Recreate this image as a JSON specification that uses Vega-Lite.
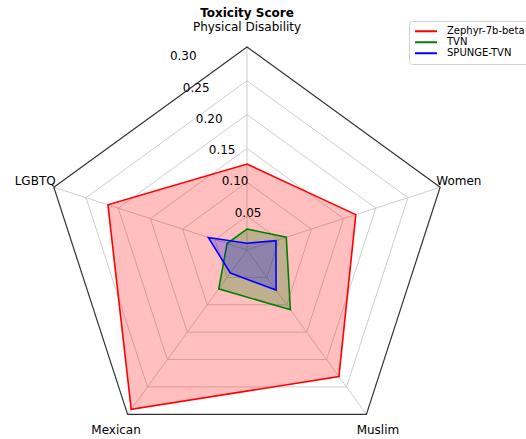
{
  "$schema": "https://vega.github.io/schema/vega-lite/v6.json",
  "width": 526,
  "height": 439,
  "autosize": {"type": "none"},
  "padding": 0,
  "config": {"view": {"stroke": null}, "font": "DejaVu Sans"},
  "datasets": {
    "axes": [
      {"idx": 0, "name": "Physical Disability"},
      {"idx": 1, "name": "Women"},
      {"idx": 2, "name": "Muslim"},
      {"idx": 3, "name": "Mexican"},
      {"idx": 4, "name": "LGBTQ"}
    ],
    "grid": [
      {"level": 0.05, "label": "0.05", "idx": [0, 1, 2, 3, 4]},
      {"level": 0.10, "label": "0.10", "idx": [0, 1, 2, 3, 4]},
      {"level": 0.15, "label": "0.15", "idx": [0, 1, 2, 3, 4]},
      {"level": 0.20, "label": "0.20", "idx": [0, 1, 2, 3, 4]},
      {"level": 0.25, "label": "0.25", "idx": [0, 1, 2, 3, 4]},
      {"level": 0.30, "label": "0.30", "idx": [0, 1, 2, 3, 4]}
    ],
    "scores": [
      {"series": "Zephyr-7b-beta", "idx": 0, "value": 0.127},
      {"series": "Zephyr-7b-beta", "idx": 1, "value": 0.169},
      {"series": "Zephyr-7b-beta", "idx": 2, "value": 0.231},
      {"series": "Zephyr-7b-beta", "idx": 3, "value": 0.291},
      {"series": "Zephyr-7b-beta", "idx": 4, "value": 0.216},
      {"series": "TVN", "idx": 0, "value": 0.031},
      {"series": "TVN", "idx": 1, "value": 0.061},
      {"series": "TVN", "idx": 2, "value": 0.109},
      {"series": "TVN", "idx": 3, "value": 0.071},
      {"series": "TVN", "idx": 4, "value": 0.031},
      {"series": "SPUNGE-TVN", "idx": 0, "value": 0.010},
      {"series": "SPUNGE-TVN", "idx": 1, "value": 0.045},
      {"series": "SPUNGE-TVN", "idx": 2, "value": 0.073},
      {"series": "SPUNGE-TVN", "idx": 3, "value": 0.042},
      {"series": "SPUNGE-TVN", "idx": 4, "value": 0.060}
    ]
  },
  "layer": [
    {
      "data": {"name": "grid"},
      "transform": [
        {"filter": "datum.level < 0.29"},
        {"flatten": ["idx"]},
        {"calculate": "datum.level * cos((90 - 72 * datum.idx) * PI / 180)", "as": "x"},
        {"calculate": "datum.level * sin((90 - 72 * datum.idx) * PI / 180)", "as": "y"}
      ],
      "mark": {"type": "line", "interpolate": "linear-closed", "stroke": "#c8c8c8", "strokeWidth": 0.9},
      "encoding": {
        "x": {"field": "x", "type": "quantitative", "scale": {"domain": [-0.36484, 0.41211], "nice": false, "zero": false}, "axis": null},
        "y": {"field": "y", "type": "quantitative", "scale": {"domain": [-0.27917, 0.36928], "nice": false, "zero": false}, "axis": null},
        "detail": {"field": "level", "type": "nominal"},
        "order": {"field": "idx", "type": "quantitative"}
      }
    },
    {
      "data": {"name": "axes"},
      "transform": [
        {"calculate": "0", "as": "ox"},
        {"calculate": "0.3 * cos((90 - 72 * datum.idx) * PI / 180)", "as": "vx"},
        {"calculate": "0.3 * sin((90 - 72 * datum.idx) * PI / 180)", "as": "vy"}
      ],
      "mark": {"type": "rule", "stroke": "#c8c8c8", "strokeWidth": 0.9},
      "encoding": {
        "x": {"field": "ox", "type": "quantitative"},
        "y": {"field": "ox", "type": "quantitative"},
        "x2": {"field": "vx"},
        "y2": {"field": "vy"}
      }
    },
    {
      "data": {"name": "grid"},
      "transform": [
        {"filter": "datum.level > 0.29"},
        {"flatten": ["idx"]},
        {"calculate": "datum.level * cos((90 - 72 * datum.idx) * PI / 180)", "as": "x"},
        {"calculate": "datum.level * sin((90 - 72 * datum.idx) * PI / 180)", "as": "y"}
      ],
      "mark": {"type": "line", "interpolate": "linear-closed", "stroke": "#333333", "strokeWidth": 1.2},
      "encoding": {
        "x": {"field": "x", "type": "quantitative"},
        "y": {"field": "y", "type": "quantitative"},
        "order": {"field": "idx", "type": "quantitative"}
      }
    },
    {
      "data": {"name": "scores"},
      "transform": [
        {"calculate": "datum.value * cos((90 - 72 * datum.idx) * PI / 180)", "as": "x"},
        {"calculate": "datum.value * sin((90 - 72 * datum.idx) * PI / 180)", "as": "y"}
      ],
      "mark": {"type": "line", "interpolate": "linear-closed", "strokeWidth": 1.6, "fillOpacity": 0.25},
      "encoding": {
        "x": {"field": "x", "type": "quantitative"},
        "y": {"field": "y", "type": "quantitative"},
        "order": {"field": "idx", "type": "quantitative"},
        "stroke": {
          "field": "series",
          "type": "nominal",
          "scale": {"domain": ["Zephyr-7b-beta", "TVN", "SPUNGE-TVN"], "range": ["#ff0000", "#008000", "#0000ff"]},
          "legend": {
            "title": null,
            "orient": "none",
            "legendX": 409,
            "legendY": 21,
            "symbolType": "stroke",
            "symbolSize": 484,
            "symbolStrokeWidth": 2,
            "symbolFillColor": "transparent",
            "labelFontSize": 10,
            "labelOffset": 9,
            "labelLimit": 200,
            "clipHeight": 10.5,
            "strokeColor": "#d0d0d0",
            "fillColor": "white",
            "padding": 5,
            "cornerRadius": 3,
            "rowPadding": 0
          }
        },
        "fill": {
          "field": "series",
          "type": "nominal",
          "scale": {"domain": ["Zephyr-7b-beta", "TVN", "SPUNGE-TVN"], "range": ["#ff0000", "#008000", "#0000ff"]}
        }
      }
    },
    {
      "data": {"name": "axes"},
      "transform": [
        {"calculate": "0.329 * cos((90 - 72 * datum.idx) * PI / 180)", "as": "lx"},
        {"calculate": "0.329 * sin((90 - 72 * datum.idx) * PI / 180)", "as": "ly"}
      ],
      "mark": {"type": "text", "fontSize": 12, "align": "center", "baseline": "middle", "color": "#000000"},
      "encoding": {
        "x": {"field": "lx", "type": "quantitative"},
        "y": {"field": "ly", "type": "quantitative"},
        "text": {"field": "name", "type": "nominal"}
      }
    },
    {
      "data": {"name": "grid"},
      "transform": [
        {"calculate": "datum.level * cos(112.5 * PI / 180)", "as": "tx"},
        {"calculate": "datum.level * sin(112.5 * PI / 180)", "as": "ty"}
      ],
      "mark": {"type": "text", "fontSize": 12, "align": "center", "baseline": "middle", "dx": 14, "dy": -6, "color": "#000000"},
      "encoding": {
        "x": {"field": "tx", "type": "quantitative"},
        "y": {"field": "ty", "type": "quantitative"},
        "text": {"field": "label", "type": "nominal"}
      }
    },
    {
      "data": {"values": [{"t": "Toxicity Score", "x": 0, "y": 0.35}]},
      "mark": {"type": "text", "fontSize": 12, "fontWeight": "bold", "align": "center", "baseline": "middle", "color": "#000000"},
      "encoding": {
        "x": {"field": "x", "type": "quantitative"},
        "y": {"field": "y", "type": "quantitative"},
        "text": {"field": "t", "type": "nominal"}
      }
    }
  ]
}
